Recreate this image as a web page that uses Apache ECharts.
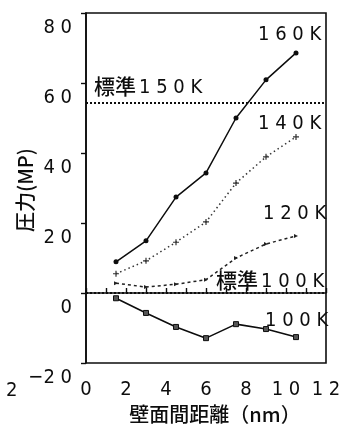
<!DOCTYPE html>
<html>
<head>
<meta charset="utf-8">
<script src="https://cdn.jsdelivr.net/npm/echarts@6/dist/echarts.min.js"></script>
<style>
  html, body { margin: 0; padding: 0; background: #fff; }
  #chart { width: 359px; height: 427px; }
</style>
</head>
<body>
<div id="chart"></div>
<script>
// Wall-to-wall distance (nm) and pressure (MPa) at several temperatures
const distances = [1.5, 3, 4.5, 6, 7.5, 9, 10.5];
const p160K = [8.9, 14.9, 27.4, 34.3, 50.0, 60.9, 68.6];
const p140K = [5.5, 9.2, 14.5, 20.3, 31.4, 38.9, 44.6];
const p120K = [2.8, 1.7, 2.5, 3.8, 10.0, 14.0, 16.3];
const p100K = [-1.5, -5.7, -9.7, -12.9, -8.9, -10.3, -12.6];
// Reference pressures
const std150K = 54.3;
const std100K = 0.2;

const xTicks = { min: 0, max: 12, step: 2 };
const yTicks = { min: -20, max: 80, step: 20 };

const numFont = '"DejaVu Sans Condensed", "Liberation Sans", sans-serif';
const jpFont = '"Noto Sans CJK JP", sans-serif';
const ink = '#0d0d0d';

// digits are typeset with wide spacing
const spaced = v => String(v).replace('-', '\u2212').split('').join(' ').replace('\u2212 ', '\u2212');

const pairs = ys => distances.map((x, i) => [x, ys[i]]);

const plusPath = 'path://M0,5 L10,5 M5,0 L5,10 M0,5 L10,5';

const chart = echarts.init(document.getElementById('chart'), null, { renderer: 'canvas' });

chart.setOption({
  animation: false,
  backgroundColor: '#fff',
  grid: {
    left: 86, top: 13, width: 240, height: 350,
    outerBoundsMode: 'none', containLabel: false,
    show: true, borderColor: ink, borderWidth: 1.6, backgroundColor: 'transparent'
  },
  xAxis: {
    type: 'value',
    min: xTicks.min, max: xTicks.max, interval: xTicks.step,
    name: '壁面間距離（nm）',
    nameLocation: 'middle',
    nameGap: 38,
    nameTextStyle: { fontFamily: jpFont, fontSize: 20, fontWeight: 500, color: ink, padding: [0, 0, 0, 18] },
    axisLine: { show: true, lineStyle: { color: ink, width: 1.6 } },
    axisTick: { show: true, inside: true, length: 5, lineStyle: { color: ink, width: 1.4 } },
    minorTick: { show: true, splitNumber: 2, length: 5, lineStyle: { color: ink, width: 1.4 } },
    splitLine: { show: false },
    axisLabel: {
      margin: 17, fontFamily: numFont, fontSize: 20, color: ink,
      formatter: spaced
    }
  },
  yAxis: {
    type: 'value',
    min: yTicks.min, max: yTicks.max, interval: yTicks.step,
    axisLine: { show: true, lineStyle: { color: ink, width: 1.6 } },
    axisTick: { show: true, inside: false, length: 5, lineStyle: { color: ink, width: 1.4 } },
    splitLine: { show: false },
    axisLabel: {
      margin: 14, fontFamily: numFont, fontSize: 20, color: ink,
      verticalAlign: 'top', lineHeight: 30,
      formatter: spaced
    }
  },
  series: [
    {
      name: '160K', type: 'line', data: pairs(p160K),
      symbol: 'circle', symbolSize: 5,
      lineStyle: { color: ink, width: 1.5 },
      itemStyle: { color: ink }
    },
    {
      name: '140K', type: 'line', data: pairs(p140K),
      symbol: plusPath, symbolSize: 6,
      lineStyle: { color: '#333', width: 1.5, type: [1.5, 3] },
      itemStyle: { color: 'transparent', borderColor: '#333', borderWidth: 1.2 }
    },
    {
      name: '120K', type: 'line', data: pairs(p120K),
      symbol: 'triangle', symbolSize: 4, symbolRotate: -90,
      lineStyle: { color: '#222', width: 1.5, type: [3, 3] },
      itemStyle: { color: '#222' }
    },
    {
      name: '100K', type: 'line', data: pairs(p100K),
      symbol: 'rect', symbolSize: 5,
      lineStyle: { color: ink, width: 1.6 },
      itemStyle: { color: '#555', borderColor: ink, borderWidth: 1 }
    },
    {
      name: 'standards', type: 'line', data: [],
      markLine: {
        silent: true, symbol: 'none', label: { show: false },
        lineStyle: { color: ink, width: 2, type: [2, 2] },
        data: [{ yAxis: std150K }, { yAxis: std100K }]
      }
    }
  ],
  graphic: [
    // vertical axis title
    { type: 'text', x: 25, y: 190, rotation: Math.PI / 2,
      style: { text: '圧力(MP)', font: '500 20px ' + jpFont, fill: ink, align: 'center', verticalAlign: 'middle' } },
    { type: 'text', left: 258, top: 25, style: { text: '1 6 0 K', font: '20px ' + numFont, fill: ink } },
    { type: 'text', left: 258, top: 114, style: { text: '1 4 0 K', font: '20px ' + numFont, fill: ink } },
    { type: 'text', left: 263, top: 204, style: { text: '1 2 0 K', font: '20px ' + numFont, fill: ink } },
    { type: 'text', left: 265, top: 311, style: { text: '1 0 0 K', font: '20px ' + numFont, fill: ink } },
    { type: 'group', left: 94, top: 76, children: [
      { type: 'text', left: 0, top: 0, style: { text: '標準', font: '500 21px ' + jpFont, fill: ink } },
      { type: 'text', left: 45, top: 2, style: { text: '1 5 0 K', font: '20px ' + numFont, fill: ink } }
    ]},
    { type: 'group', left: 216, top: 270, children: [
      { type: 'text', left: 0, top: 0, style: { text: '標準', font: '500 21px ' + jpFont, fill: ink } },
      { type: 'text', left: 45, top: 2, style: { text: '1 0 0 K', font: '20px ' + numFont, fill: ink } }
    ]},
    { type: 'text', left: 6, top: 381, style: { text: '2', font: '20px ' + numFont, fill: ink } }
  ]
});
</script>
</body>
</html>
